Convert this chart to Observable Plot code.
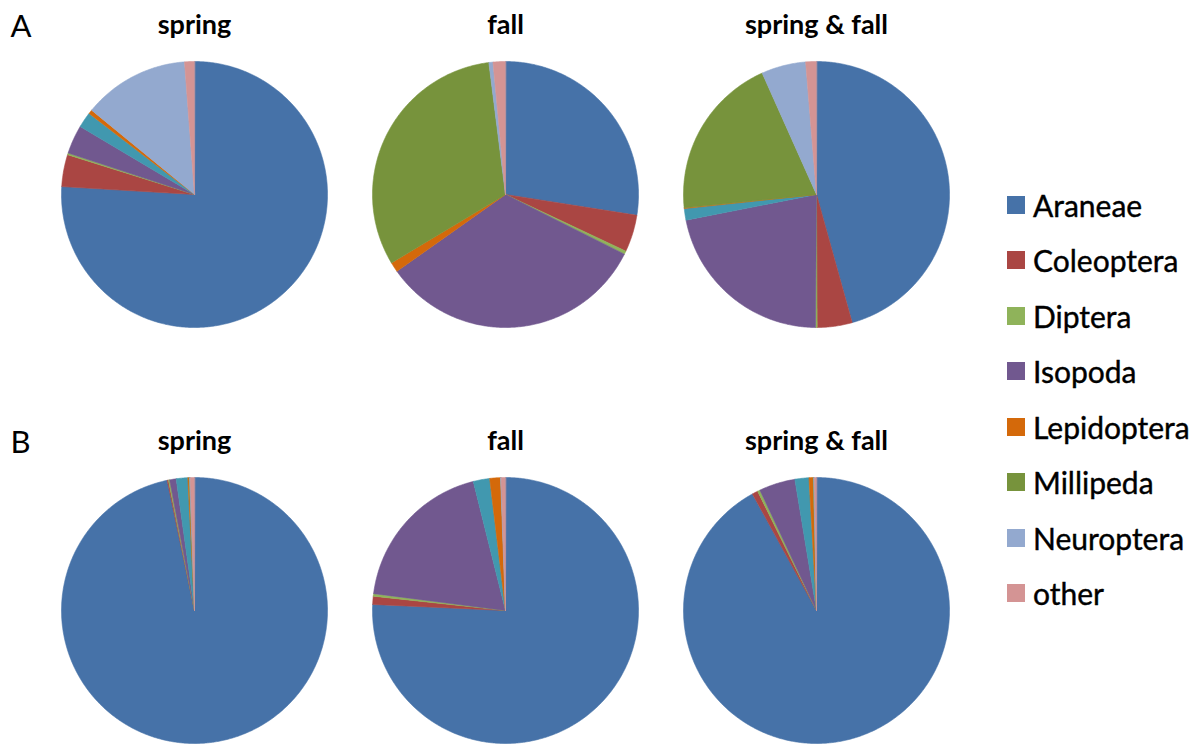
<!DOCTYPE html>
<html><head><meta charset="utf-8">
<script src="https://cdn.jsdelivr.net/npm/d3@7"></script>
<script src="https://cdn.jsdelivr.net/npm/@observablehq/plot@0.6"></script>
<style>
body{margin:0;background:#fff;}
#wrap{position:relative;width:1204px;height:746px;overflow:hidden;}
#legend{position:absolute;left:1007px;top:177px;}
#legend .lg-swatch{height:55.5px !important;display:flex !important;align-items:center !important;padding:0 !important;margin:0 !important;font-family:Lato,sans-serif !important;font-size:30px !important;color:#000 !important;-webkit-text-stroke:0.4px #000;}
#legend .lg-swatch svg{margin-right:8px !important;}
#legend .lg-swatch-label,#legend .lg-swatch span{overflow:visible !important;}
</style></head><body><div id="wrap"></div>
<script>
// categories (the teal slice has no entry in the original legend)
const categories = ["Araneae","Coleoptera","Diptera","Isopoda","(unlabelled)","Lepidoptera","Millipeda","Neuroptera","other"];
const colors = ["#4672A8","#AA4643","#8FB35A","#71588F","#4198AF","#D4690A","#77933C","#93A9CF","#D49494"];
const legendCategories = ["Araneae","Coleoptera","Diptera","Isopoda","Lepidoptera","Millipeda","Neuroptera","other"];
const seasons = ["spring","fall","spring & fall"];
const panels = ["A","B"];

// percentages per pie, in category order
const springA = [76.1, 3.9, 0.2, 3.5, 1.9, 0.5, 0, 12.9, 1.2];
const fallA   = [27.5, 4.5, 0.4, 32.8, 0, 1.2, 31.6, 0.5, 1.5];
const bothA   = [45.7, 4.25, 0.2, 21.8, 1.4, 0.1, 19.9, 5.4, 1.3];
const springB = [96.8, 0.15, 0.15, 0.8, 1.4, 0.15, 0.05, 0.1, 0.5];
const fallB   = [75.8, 1.0, 0.3, 19.1, 2.0, 1.3, 0, 0.1, 0.5];
const bothB   = [92.0, 0.7, 0.3, 4.4, 1.7, 0.5, 0.05, 0.1, 0.25];

const pies = [
  {panel:"A", season:"spring", values:springA},
  {panel:"A", season:"fall", values:fallA},
  {panel:"A", season:"spring & fall", values:bothA},
  {panel:"B", season:"spring", values:springB},
  {panel:"B", season:"fall", values:fallB},
  {panel:"B", season:"spring & fall", values:bothB}
];

// slice outlines (unit circle, clockwise from 12 o'clock)
const pts = [];
for (const p of pies) {
  const total = d3.sum(p.values);
  let acc = 0;
  p.values.forEach((v, i) => {
    if (v <= 0) return;
    const a0 = acc / total * 2 * Math.PI, a1 = (acc + v) / total * 2 * Math.PI;
    acc += v;
    const key = p.panel + "|" + p.season + "|" + categories[i];
    const base = {panel:p.panel, season:p.season, category:categories[i], key};
    pts.push({...base, x:0, y:0});
    const n = Math.max(2, Math.ceil((a1 - a0) / (Math.PI / 360)));
    for (let k = 0; k <= n; k++) {
      const a = a0 + (a1 - a0) * k / n;
      pts.push({...base, x:Math.sin(a), y:Math.cos(a)});
    }
  });
}

const panelLabels = panels.map(p => ({panel:p, season:"spring"}));

const chart = Plot.plot({
  width: 1204, height: 746,
  marginLeft: 61, marginRight: 255, marginTop: 61, marginBottom: 3,
  x: {domain:[-1,1], axis:null},
  y: {domain:[-1,1], axis:null},
  fx: {domain:seasons, axis:null, paddingInner:0.1447, paddingOuter:0},
  fy: {domain:panels, axis:null, paddingInner:0.3606, paddingOuter:0},
  color: {domain:categories, range:colors},
  style: {fontFamily:"Lato, sans-serif", background:"#fff", overflow:"visible"},
  marks: [
    Plot.line(pts, {x:"x", y:"y", z:"key", fill:"category", stroke:"category", strokeWidth:0.6, curve:"linear-closed", fx:"season", fy:"panel"}),
    Plot.text(pies, {fx:"season", fy:"panel", text:"season", frameAnchor:"top", lineAnchor:"bottom", dy:-28, fontSize:27, fontWeight:"bold", fill:"#000"}),
    Plot.text(panelLabels, {fx:"season", fy:"panel", text:"panel", frameAnchor:"top-left", textAnchor:"start", lineAnchor:"bottom", dx:-51, dy:-25, fontSize:31, fill:"#000"})
  ]
});
const wrap = document.getElementById("wrap");
wrap.appendChild(chart);

const legend = Plot.legend({
  color: {type:"categorical", domain:legendCategories, range:legendCategories.map(c => colors[categories.indexOf(c)])},
  legend: "swatches", columns: 1, swatchSize: 18, className: "lg"
});
const ld = document.createElement("div");
ld.id = "legend";
ld.appendChild(legend);
wrap.appendChild(ld);
</script></body></html>
